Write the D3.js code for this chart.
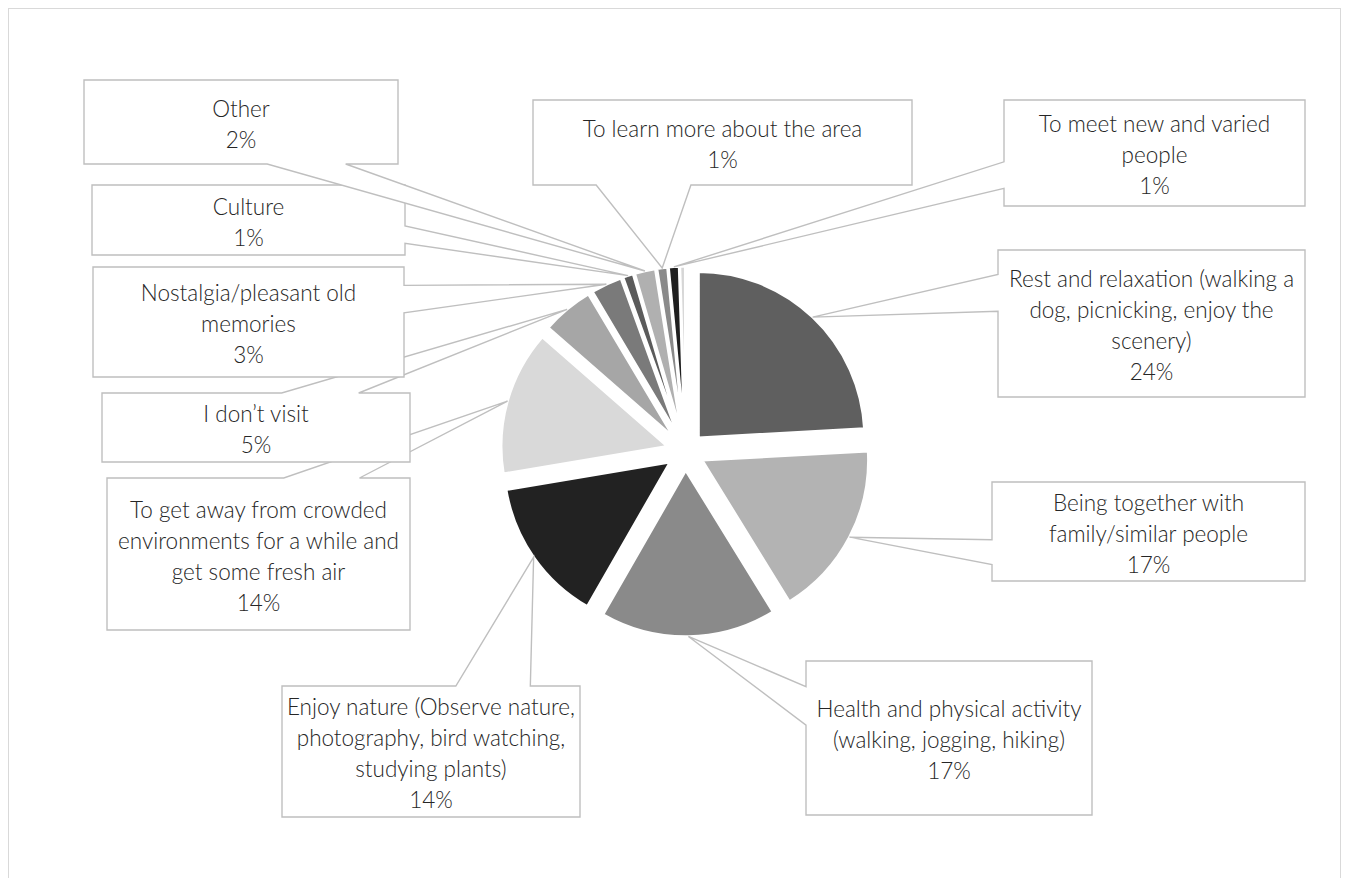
<!DOCTYPE html>
<html>
<head>
<meta charset="utf-8">
<script src="https://cdn.jsdelivr.net/npm/d3@7"></script>
<style>
  html, body { margin: 0; padding: 0; background: #fff; }
  svg { display: block; }
</style>
</head>
<body>
<svg id="chart" width="1348" height="878"></svg>
<script>
// Reasons for visiting, in pie order (clockwise from 12 o'clock)
const categories = [
  ["Rest and relaxation (walking a", "dog, picnicking, enjoy the", "scenery)"],
  ["Being together with", "family/similar people"],
  ["Health and physical activity", "(walking, jogging, hiking)"],
  ["Enjoy nature (Observe nature,", "photography, bird watching,", "studying plants)"],
  ["To get away from crowded", "environments for a while and", "get some fresh air"],
  ["I don\u2019t visit"],
  ["Nostalgia/pleasant old", "memories"],
  ["Culture"],
  ["Other"],
  ["To learn more about the area"],
  ["To meet new and varied", "people"],
  null
];
// Share of answers, percent
const values = [24, 17, 17, 14, 14, 5, 3, 1, 2, 1, 1, 0.5];
const shades = ["#5f5f5f", "#b3b3b3", "#8a8a8a", "#222222", "#d9d9d9", "#a6a6a6",
                "#7a7a7a", "#5b5b5b", "#b0b0b0", "#8a8a8a", "#1f1f1f", "#d6d6d6"];

// Callout boxes: [left, top, right, bottom]
const calloutBoxes = [
  [998, 250, 1305, 397],
  [992, 482, 1305, 581],
  [806, 661, 1092, 815],
  [282, 686, 580, 817],
  [107, 478, 410, 630],
  [102, 393, 410, 462],
  [93, 267, 404, 377],
  [92, 185, 405, 255],
  [84, 80, 398, 164],
  [533, 100, 912, 185],
  [1004, 100, 1305, 206],
  null
];

const W = 1348, H = 878;
const svg = d3.select("#chart");

// chart area frame
svg.append("rect")
  .attr("x", 8.5).attr("y", 8.5)
  .attr("width", 1332).attr("height", H)
  .attr("fill", "#fff").attr("stroke", "#d9d9d9").attr("stroke-width", 1);

const cx = 685.5, cy = 451.5, R = 166, explode = 19;

const arcs = d3.pie().sort(null).value(d => d)(values);
const arc = d3.arc().innerRadius(0).outerRadius(R);

const mid = d => (d.startAngle + d.endAngle) / 2;

// exploded slices
svg.append("g")
  .selectAll("path")
  .data(arcs)
  .join("path")
  .attr("d", arc)
  .attr("transform", d => `translate(${cx + Math.sin(mid(d)) * explode},${cy - Math.cos(mid(d)) * explode})`)
  .attr("fill", (d, i) => shades[i])
  .attr("stroke", "#fff")
  .attr("stroke-width", 2.5)
  .attr("stroke-linejoin", "miter");

// wedge-rectangle callout outline: box with a wedge to the tip
function calloutPath(box, tx, ty) {
  const [l, t, r, b] = box;
  const w = r - l, h = b - t;
  const hc = l + w / 2, vc = t + h / 2;
  const dxPos = tx - hc, dyPos = ty - vc;
  const dx = dxPos * h / w, dy = dyPos;
  const x1 = l + w * (dxPos > 0 ? 7 : 2) / 12;
  const x2 = l + w * (dxPos > 0 ? 10 : 5) / 12;
  const y1 = t + h * (dyPos > 0 ? 7 : 2) / 12;
  const y2 = t + h * (dyPos > 0 ? 10 : 5) / 12;
  let side;
  if (Math.abs(dx) > Math.abs(dy)) side = dxPos > 0 ? "right" : "left";
  else side = dyPos > 0 ? "bottom" : "top";
  const p = d3.path();
  p.moveTo(l, t);
  if (side === "top") { p.lineTo(x1, t); p.lineTo(tx, ty); p.lineTo(x2, t); }
  p.lineTo(r, t);
  if (side === "right") { p.lineTo(r, y1); p.lineTo(tx, ty); p.lineTo(r, y2); }
  p.lineTo(r, b);
  if (side === "bottom") { p.lineTo(x2, b); p.lineTo(tx, ty); p.lineTo(x1, b); }
  p.lineTo(l, b);
  if (side === "left") { p.lineTo(l, y2); p.lineTo(tx, ty); p.lineTo(l, y1); }
  p.closePath();
  return p.toString();
}

const fontSize = 22.5, lineH = 31;
const labels = svg.append("g");

arcs.forEach((d, i) => {
  const box = calloutBoxes[i];
  if (!box || !categories[i]) return;
  const a = mid(d);
  const tx = cx + Math.sin(a) * (explode + R);
  const ty = cy - Math.cos(a) * (explode + R);
  const g = labels.append("g");
  g.append("path")
    .attr("d", calloutPath(box, tx, ty))
    .attr("fill", "#fff")
    .attr("stroke", "#bfbfbf")
    .attr("stroke-width", 1.4)
    .attr("stroke-linejoin", "miter");
  const lines = categories[i].concat([`${values[i]}%`]);
  const bx = (box[0] + box[2]) / 2, by = (box[1] + box[3]) / 2;
  const text = g.append("text")
    .attr("text-anchor", "middle")
    .attr("font-family", "Lato, 'Open Sans', sans-serif")
    .attr("font-weight", 300)
    .attr("font-size", fontSize)
    .attr("fill", "#262626");
  lines.forEach((ln, j) => {
    text.append("tspan")
      .attr("x", bx)
      .attr("y", by + (j - (lines.length - 1) / 2) * lineH + 0.36 * fontSize + 2)
      .text(ln);
  });
});
</script>
</body>
</html>
